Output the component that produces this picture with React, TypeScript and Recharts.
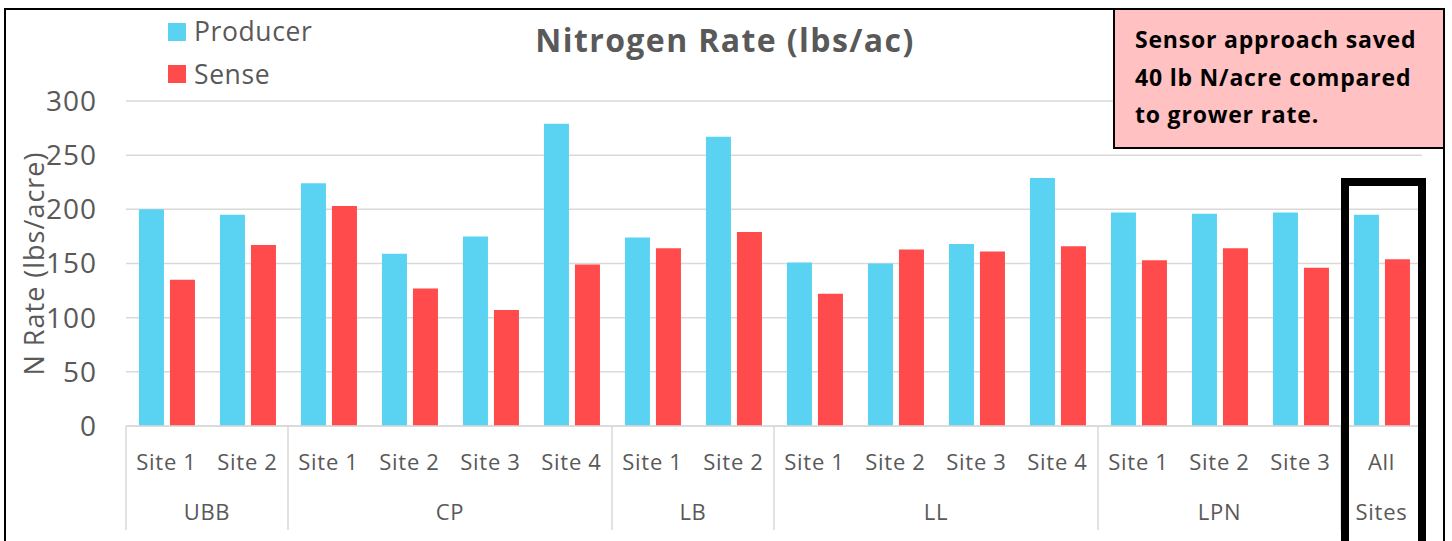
import React from 'react';
import { BarChart, Bar, XAxis, YAxis, CartesianGrid } from 'recharts';

const sites = ['Site 1', 'Site 2', 'Site 1', 'Site 2', 'Site 3', 'Site 4', 'Site 1', 'Site 2', 'Site 1', 'Site 2', 'Site 3', 'Site 4', 'Site 1', 'Site 2', 'Site 3', 'All'];
const groups = ['UBB', 'UBB', 'CP', 'CP', 'CP', 'CP', 'LB', 'LB', 'LL', 'LL', 'LL', 'LL', 'LPN', 'LPN', 'LPN', 'Sites'];
const producer = [200, 195, 224, 159, 175, 279, 174, 267, 151, 150, 168, 229, 197, 196, 197, 195];
const sense = [135, 167, 203, 127, 107, 149, 164, 179, 122, 163, 161, 166, 153, 164, 146, 154];
const yTicks = [0, 50, 100, 150, 200, 250, 300];

const data = sites.map((s, i) => ({ id: i, site: s, group: groups[i], producer: producer[i], sense: sense[i] }));

const W = 1452;
const H = 541;
const Y_AXIS_W = 126;
const RIGHT = 30;
const TOP = 101;
const SITE_AXIS_H = 60;
const GROUP_AXIS_H = 55;
const PLOT_BOTTOM = H - SITE_AXIS_H - GROUP_AXIS_H;
const BAND = (W - Y_AXIS_W - RIGHT) / sites.length;

const GRAY = '#595959';
const BLUE = '#5AD3F2';
const RED = '#FF4B4B';
const FONT = '"Open Sans", Lato, sans-serif';

const SiteTick = (props: any) => {
  const { x, index } = props;
  return (
    <text x={x} y={PLOT_BOTTOM + 44} textAnchor="middle" fontSize={22} letterSpacing={0.7} fill={GRAY} fontFamily={FONT}>
      {sites[index]}
    </text>
  );
};

const GroupTick = (props: any) => {
  const { x, index } = props;
  const first = index === 0 || groups[index] !== groups[index - 1];
  if (!first) return null;
  let count = 1;
  while (index + count < groups.length && groups[index + count] === groups[index]) count++;
  const last = index + count >= groups.length;
  return (
    <g>
      <line x1={x - BAND / 2} x2={x - BAND / 2} y1={PLOT_BOTTOM} y2={PLOT_BOTTOM + 104} stroke="#d9d9d9" strokeWidth={1.5} />
      {last && (
        <line x1={x + (count - 0.5) * BAND} x2={x + (count - 0.5) * BAND} y1={PLOT_BOTTOM} y2={PLOT_BOTTOM + 104} stroke="#d9d9d9" strokeWidth={1.5} />
      )}
      <text x={x + ((count - 1) * BAND) / 2} y={PLOT_BOTTOM + 94} textAnchor="middle" fontSize={22} letterSpacing={0.7} fill={GRAY} fontFamily={FONT}>
        {groups[index]}
      </text>
    </g>
  );
};

export default function App() {
  return (
    <div style={{ position: 'absolute', left: 0, top: 0, width: W, height: H, background: '#fff', overflow: 'hidden' }}>
      <BarChart
        width={W}
        height={H}
        data={data}
        margin={{ top: TOP, right: RIGHT, left: 0, bottom: 0 }}
        barCategoryGap="16%"
        barGap={6}
      >
        <CartesianGrid vertical={false} stroke="#d9d9d9" strokeWidth={1.5} />
        <XAxis
          dataKey="id"
          height={SITE_AXIS_H}
          interval={0}
          axisLine={{ stroke: '#d9d9d9', strokeWidth: 1.5 }}
          tickLine={false}
          tick={<SiteTick />}
        />
        <XAxis
          xAxisId="group"
          dataKey="id"
          height={GROUP_AXIS_H}
          interval={0}
          axisLine={false}
          tickLine={false}
          tick={<GroupTick />}
        />
        <YAxis
          width={Y_AXIS_W}
          domain={[0, 300]}
          ticks={yTicks}
          axisLine={false}
          tickLine={false}
          tickSize={0}
          tickMargin={29}
          tick={{ fontSize: 28, fill: GRAY, fontFamily: FONT, letterSpacing: 1 }}
        />
        <Bar dataKey="producer" name="Producer" fill={BLUE} isAnimationActive={false} />
        <Bar dataKey="sense" name="Sense" fill={RED} isAnimationActive={false} />
      </BarChart>
      <svg width={W} height={H} style={{ position: 'absolute', left: 0, top: 0, pointerEvents: 'none' }}>
        <rect x={5} y={9} width={1439} height={545} fill="none" stroke="#000" strokeWidth={2} />
        <text x={725} y={52} textAnchor="middle" fontSize={32} letterSpacing={1.4} fontWeight="bold" fill={GRAY} fontFamily={FONT}>
          Nitrogen Rate (lbs/ac)
        </text>
        <text transform={`translate(44, ${(TOP + PLOT_BOTTOM) / 2}) rotate(-90)`} textAnchor="middle" fontSize={27} letterSpacing={1} fill={GRAY} fontFamily={FONT}>
          N Rate (lbs/acre)
        </text>
        <rect x={168} y={23} width={18} height={18} fill={BLUE} />
        <text x={194} y={41} fontSize={26.5} letterSpacing={0.6} fill={GRAY} fontFamily={FONT}>Producer</text>
        <rect x={168} y={65} width={18} height={18} fill={RED} />
        <text x={194} y={84} fontSize={26.5} letterSpacing={0.6} fill={GRAY} fontFamily={FONT}>Sense</text>
        <rect x={1114} y={9} width={330} height={139} fill="#FFC1C1" stroke="#000" strokeWidth={2} />
        <text fontSize={23} letterSpacing={0.8} fontWeight="bold" fill="#000" fontFamily={FONT}>
          <tspan x={1135} y={48}>Sensor approach saved</tspan>
          <tspan x={1135} y={86}>40 lb N/acre compared</tspan>
          <tspan x={1135} y={123}>to grower rate.</tspan>
        </text>
        <rect x={1345} y={182} width={77} height={400} fill="none" stroke="#000" strokeWidth={8} />
      </svg>
    </div>
  );
}
